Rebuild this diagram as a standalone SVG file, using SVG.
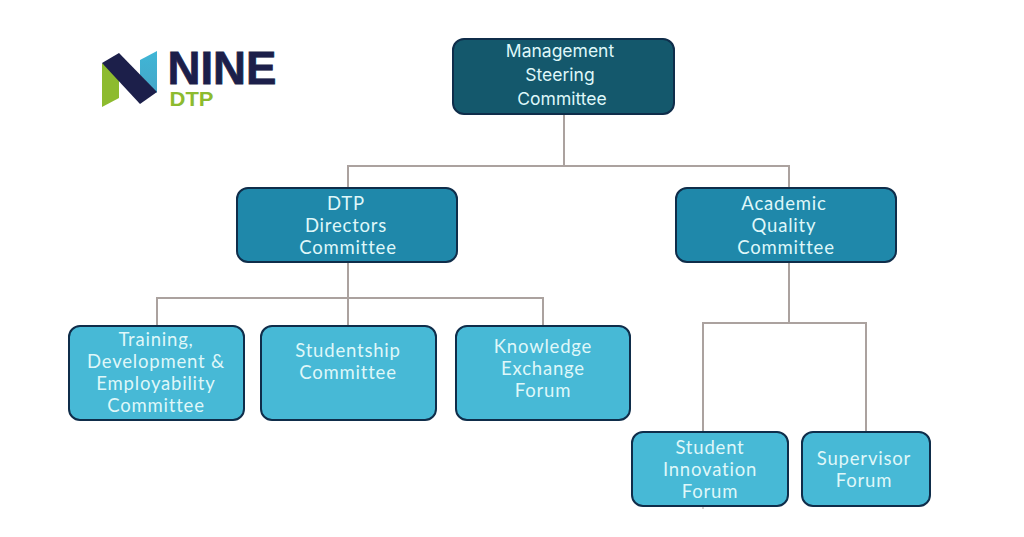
<svg xmlns="http://www.w3.org/2000/svg" width="1024" height="537" viewBox="0 0 1024 537">
<defs><linearGradient id="blue" x1="0" y1="0" x2="0" y2="1"><stop offset="0" stop-color="#3fb6d6"/><stop offset="1" stop-color="#45a6c8"/></linearGradient></defs>
<style>
.b{stroke:#0f2d4a;stroke-width:2}
.top{fill:#14586c}
.mid{fill:#1f88aa}
.low{fill:#47b9d6}
text{font-family:"Inter","Liberation Sans",Arial,sans-serif;font-size:17.500px;fill:#dff7f9;text-anchor:middle}
.w{font-family:"Lato","Liberation Sans",Arial,sans-serif;font-size:18.500px;letter-spacing:.8px}
#connectors path{fill:none;stroke:#aba29f;stroke-width:2}
</style>
<rect width="1024" height="537" fill="#ffffff"/>
<g id="logo">
<polygon points="102,63 119,76 119,98 102,107" fill="#8dbb2f"/>
<polygon points="140,60 157,51 157,93 140,75" fill="url(#blue)"/>
<polygon points="102,63 119,53 157,92 140,104" fill="#1c1f4a"/>
<text x="222" y="84" style="font-family:'Liberation Sans',Arial,sans-serif;font-size:47px;font-weight:700;fill:#1c1f4a;stroke:#1c1f4a;stroke-width:.8" textLength="109" lengthAdjust="spacingAndGlyphs">NINE</text>
<text x="191.500" y="106" style="font-family:'Liberation Sans',Arial,sans-serif;font-size:20px;font-weight:700;fill:#8dbb2f" textLength="44" lengthAdjust="spacingAndGlyphs">DTP</text>
</g>
<g id="connectors">
<path d="M564 114V165"/>
<path d="M348 188V166H789V188"/>
<path d="M348 262V298"/>
<path d="M157 326V298H543V326"/>
<path d="M348 298V326"/>
<path d="M789 262V323"/>
<path d="M703 432V323H866V432"/>
<path d="M703 506V509" style="stroke-width:1"/>
</g>
<g id="management"><rect class="b top" x="453" y="39" width="221" height="75" rx="11"/><text x="560" y="57">Management</text><text x="560" y="81">Steering</text><text x="562" y="105">Committee</text></g>
<g id="directors"><rect class="b mid" x="237" y="188" width="220" height="74" rx="11"/><text class="w" x="346" y="210">DTP</text><text class="w" x="346" y="232">Directors</text><text class="w" x="348" y="254">Committee</text></g>
<g id="quality"><rect class="b mid" x="676" y="188" width="220" height="74" rx="11"/><text class="w" x="784" y="210">Academic</text><text class="w" x="784" y="232">Quality</text><text class="w" x="786" y="254">Committee</text></g>
<g id="training"><rect class="b low" x="69" y="326" width="175" height="94" rx="11"/><text class="w" x="156" y="346">Training,</text><text class="w" x="156" y="368">Development &amp;</text><text class="w" x="156" y="390">Employability</text><text class="w" x="156" y="412">Committee</text></g>
<g id="studentship"><rect class="b low" x="261" y="326" width="175" height="94" rx="11"/><text class="w" x="348" y="357">Studentship</text><text class="w" x="348" y="379">Committee</text></g>
<g id="knowledge"><rect class="b low" x="456" y="326" width="174" height="94" rx="11"/><text class="w" x="543" y="353">Knowledge</text><text class="w" x="543" y="375">Exchange</text><text class="w" x="543" y="397">Forum</text></g>
<g id="innovation"><rect class="b low" x="632" y="432" width="156" height="74" rx="11"/><text class="w" x="710" y="454">Student</text><text class="w" x="710" y="476">Innovation</text><text class="w" x="710" y="498">Forum</text></g>
<g id="supervisor"><rect class="b low" x="802" y="432" width="128" height="74" rx="11"/><text class="w" x="864" y="465">Supervisor</text><text class="w" x="864" y="487">Forum</text></g>
</svg>
